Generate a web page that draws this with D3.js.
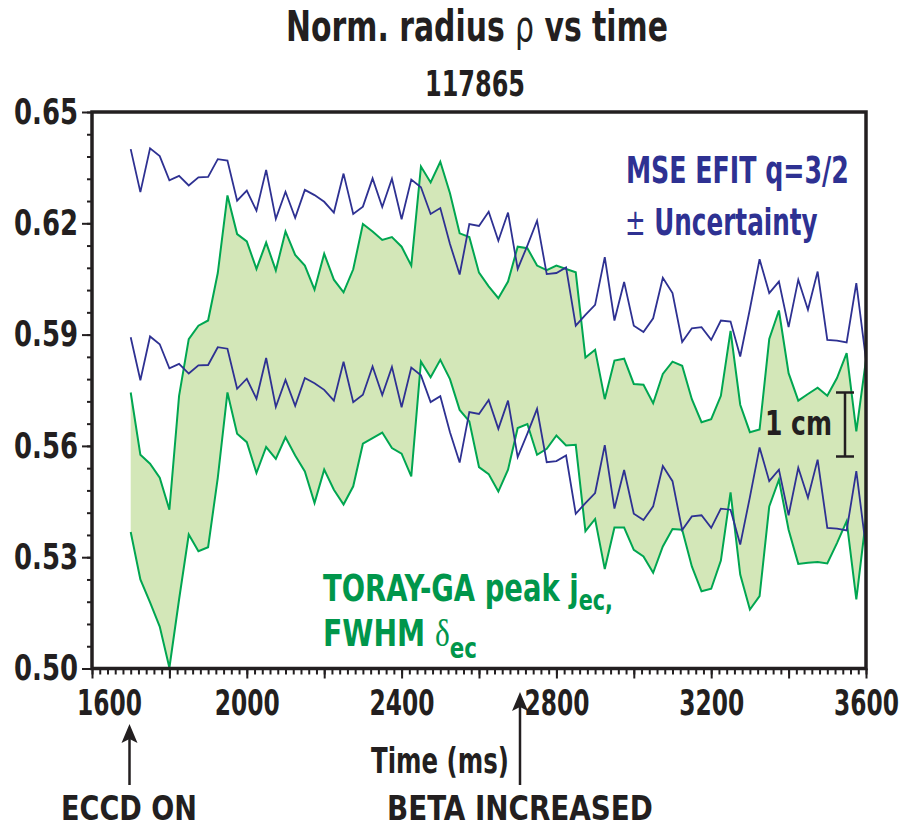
<!DOCTYPE html>
<html>
<head>
<meta charset="utf-8">
<script src="https://cdn.jsdelivr.net/npm/d3@7"></script>
<style>
    html, body { margin: 0; padding: 0; background: #fff; }
    svg { display: block; }
    text { font-family: "Liberation Sans Narrow", "Arial Narrow", "DejaVu Sans Condensed", sans-serif; font-weight: bold; fill: #231f20; }
</style>
</head>
<body>
<div id="chart"></div>
<script>
// Data (time in ms, normalised radius rho)
const times = [
    1700, 1725, 1750, 1775, 1800, 1825, 1850, 1875, 1900, 1925, 1950, 1975, 2000, 2025, 2050, 2075,
    2100, 2125, 2150, 2175, 2200, 2225, 2250, 2275, 2300, 2325, 2350, 2375, 2400, 2425, 2450, 2475,
    2500, 2525, 2550, 2575, 2600, 2625, 2650, 2675, 2700, 2725, 2750, 2775, 2800, 2825, 2850, 2875,
    2900, 2925, 2950, 2975, 3000, 3025, 3050, 3075, 3100, 3125, 3150, 3175, 3200, 3225, 3250, 3275,
    3300, 3325, 3350, 3375, 3400, 3425, 3450, 3475, 3500, 3525, 3550, 3575, 3600
];

// MSE EFIT q=3/2 +/- uncertainty
const mseUpper = [
    0.6400, 0.6284, 0.6402, 0.6381, 0.6316, 0.6328, 0.6302, 0.6324, 0.6325, 0.6373, 0.6369, 0.6261,
    0.6288, 0.6234, 0.6344, 0.6212, 0.6285, 0.6215, 0.6290, 0.6276, 0.6258, 0.6229, 0.6334,
    0.6225, 0.6245, 0.6321, 0.6244, 0.6320, 0.6211, 0.6318, 0.6297, 0.6225, 0.6241, 0.6144, 0.6062,
    0.6198, 0.6193, 0.6231, 0.6153, 0.6229, 0.6077, 0.6140, 0.6207, 0.6063, 0.6066, 0.6081,
    0.5924, 0.5953, 0.5980, 0.6109, 0.5938, 0.6042, 0.5924, 0.5907, 0.5944, 0.6053, 0.6012, 0.5880,
    0.5917, 0.5920, 0.5886, 0.5938, 0.5935, 0.5841, 0.5969, 0.6103, 0.6012, 0.6043, 0.5920, 0.6048,
    0.5967, 0.6070, 0.5886, 0.5884, 0.5879, 0.6039, 0.5832
];
const mseLower = [
    0.5893, 0.5777, 0.5895, 0.5874, 0.5809, 0.5821, 0.5795, 0.5817, 0.5818, 0.5866, 0.5862, 0.5754,
    0.5781, 0.5727, 0.5837, 0.5705, 0.5778, 0.5708, 0.5783, 0.5769, 0.5751, 0.5722, 0.5827,
    0.5718, 0.5738, 0.5814, 0.5737, 0.5813, 0.5704, 0.5811, 0.5790, 0.5718, 0.5734, 0.5637, 0.5555,
    0.5691, 0.5686, 0.5724, 0.5646, 0.5722, 0.5570, 0.5633, 0.5700, 0.5556, 0.5559, 0.5574,
    0.5417, 0.5446, 0.5473, 0.5602, 0.5431, 0.5535, 0.5417, 0.5400, 0.5437, 0.5546, 0.5505, 0.5373,
    0.5410, 0.5413, 0.5379, 0.5431, 0.5428, 0.5334, 0.5462, 0.5596, 0.5505, 0.5536, 0.5413, 0.5541,
    0.5460, 0.5563, 0.5379, 0.5377, 0.5372, 0.5532, 0.5325
];

// TORAY-GA peak j_ec +/- FWHM
const torayUpper = [
    0.5744, 0.5576, 0.5552, 0.5514, 0.5428, 0.5735, 0.5888, 0.5924, 0.5938, 0.6066, 0.6275, 0.6171,
    0.6151, 0.6077, 0.6148, 0.6073, 0.6178, 0.6115, 0.6086, 0.6021, 0.6118, 0.6048, 0.6014,
    0.6076, 0.6198, 0.6178, 0.6155, 0.6163, 0.6137, 0.6086, 0.6353, 0.6310, 0.6366, 0.6281, 0.6173,
    0.6163, 0.6067, 0.6030, 0.5998, 0.6043, 0.6137, 0.6133, 0.6086, 0.6074, 0.6086, 0.6077, 0.6068,
    0.5838, 0.5859, 0.5726, 0.5830, 0.5835, 0.5767, 0.5765, 0.5715, 0.5794, 0.5827, 0.5816, 0.5726,
    0.5664, 0.5672, 0.5735, 0.5910, 0.5711, 0.5637, 0.5644, 0.5888, 0.5965, 0.5796, 0.5722, 0.5740,
    0.5757, 0.5735, 0.5783, 0.5850, 0.5639, 0.5832
];
const torayLower = [
    0.5368, 0.5240, 0.5178, 0.5113, 0.5002, 0.5186, 0.5361, 0.5316, 0.5327, 0.5514, 0.5744, 0.5633,
    0.5610, 0.5527, 0.5597, 0.5565, 0.5623, 0.5574, 0.5531, 0.5446, 0.5536, 0.5482, 0.5442,
    0.5491, 0.5606, 0.5621, 0.5636, 0.5594, 0.5579, 0.5518, 0.5827, 0.5785, 0.5832, 0.5780, 0.5697,
    0.5666, 0.5543, 0.5524, 0.5477, 0.5536, 0.5648, 0.5659, 0.5576, 0.5592, 0.5628, 0.5601, 0.5603,
    0.5370, 0.5403, 0.5268, 0.5380, 0.5380, 0.5320, 0.5302, 0.5258, 0.5329, 0.5376, 0.5374, 0.5275,
    0.5208, 0.5215, 0.5291, 0.5475, 0.5253, 0.5159, 0.5195, 0.5437, 0.5509, 0.5374, 0.5282, 0.5285,
    0.5287, 0.5283, 0.5338, 0.5397, 0.5186, 0.5403
];

const xLabelTicks = [1600, 2000, 2400, 2800, 3200, 3600];
const yLabelTicks = [0.50, 0.53, 0.56, 0.59, 0.62, 0.65];

// Layout
const width = 901, height = 828;
const plotLeft = 92, plotRight = 866, plotTop = 112, plotBottom = 668.5;
const ink = '#231f20', blue = '#2e3192', green = '#00a651', greenText = '#00964b', fillGreen = '#d3e7b8';
const font = 35;

const x = d3.scaleLinear().domain([1600, 3600]).range([plotLeft, plotRight]);
const y = d3.scaleLinear().domain([0.50, 0.65]).range([plotBottom, plotTop]);

const svg = d3.select('#chart').append('svg')
    .attr('width', width)
    .attr('height', height);

// squeeze a text horizontally (about its anchor x) to a target width - condensed look
function squeeze(node, w) {
    const b = node.getBBox();
    if (!b.width) return;
    const s = w / b.width;
    const ax = +node.getAttribute('x') || 0;
    node.setAttribute('transform', `translate(${ax},0) scale(${s},1) translate(${-ax},0)`);
}

// band between TORAY-GA curves
const rows = times.map((t, i) => ({ t, mu: mseUpper[i], ml: mseLower[i], tu: torayUpper[i], tl: torayLower[i] }));

svg.append('path')
    .datum(rows)
    .attr('fill', fillGreen)
    .attr('stroke', 'none')
    .attr('d', d3.area().x(d => x(d.t)).y0(d => y(d.tl)).y1(d => y(d.tu)));

const lineOf = key => d3.line().x(d => x(d.t)).y(d => y(d[key]));

['tu', 'tl'].forEach(k => {
    svg.append('path')
        .datum(rows)
        .attr('fill', 'none')
        .attr('stroke', green)
        .attr('stroke-width', 2)
        .attr('d', lineOf(k));
});

['mu', 'ml'].forEach(k => {
    svg.append('path')
        .datum(rows)
        .attr('fill', 'none')
        .attr('stroke', blue)
        .attr('stroke-width', 1.8)
        .attr('d', lineOf(k));
});

// x axis: minor, major, labels
const xMinor = svg.append('g')
    .attr('transform', `translate(0,${plotBottom})`)
    .call(d3.axisBottom(x).tickValues(d3.range(1600, 3601, 20)).tickSize(6).tickFormat(''));
const xMajor = svg.append('g')
    .attr('transform', `translate(0,${plotBottom})`)
    .call(d3.axisBottom(x).tickValues(d3.range(1600, 3601, 200)).tickSize(10).tickPadding(11.5)
        .tickFormat(d => xLabelTicks.includes(d) ? d : ''));

xMajor.selectAll('text')
    .style('font-size', font + 'px')
    .attr('fill', ink)
    .attr('x', d => d === 1600 ? 17 : 0)
    .each(function (d) { if (xLabelTicks.includes(d)) squeeze(this, 65); });

// y axis
const yMinor = svg.append('g')
    .attr('transform', `translate(${plotLeft},0)`)
    .call(d3.axisLeft(y).tickValues(d3.range(0.50, 0.6501, 0.006)).tickSize(5).tickFormat(''));
const yMajor = svg.append('g')
    .attr('transform', `translate(${plotLeft},0)`)
    .call(d3.axisLeft(y).tickValues(yLabelTicks).tickSize(10).tickPadding(4).tickFormat(d3.format('.2f')));

yMajor.selectAll('text')
    .style('font-size', font + 'px')
    .attr('fill', ink)
    .each(function () { squeeze(this, 64); });

[xMinor, xMajor, yMinor, yMajor].forEach(g => {
    g.select('.domain').remove();
    g.selectAll('line').attr('stroke', ink).attr('stroke-width', 2);
});

// frame
svg.append('rect')
    .attr('x', plotLeft)
    .attr('y', plotTop)
    .attr('width', plotRight - plotLeft)
    .attr('height', plotBottom - plotTop)
    .attr('fill', 'none')
    .attr('stroke', ink)
    .attr('stroke-width', 3.5);

// titles
const title = svg.append('text')
    .attr('x', 477)
    .attr('y', 41.5)
    .attr('text-anchor', 'middle')
    .style('font-size', '42px');
title.append('tspan').text('Norm. radius ');
title.append('tspan').style('font-weight', 'normal').text('ρ');
title.append('tspan').text(' vs time');
squeeze(title.node(), 382);

const shot = svg.append('text')
    .attr('x', 475)
    .attr('y', 96)
    .attr('text-anchor', 'middle')
    .style('font-size', '36px')
    .text('117865');
squeeze(shot.node(), 100);

const xTitle = svg.append('text')
    .attr('x', 440)
    .attr('y', 773)
    .attr('text-anchor', 'middle')
    .style('font-size', font + 'px')
    .text('Time (ms)');
squeeze(xTitle.node(), 138);

// legend texts
const mse = svg.append('text')
    .attr('x', 626)
    .attr('y', 183)
    .style('font-size', '37px')
    .style('fill', blue)
    .text('MSE EFIT q=3/2');
squeeze(mse.node(), 223);

const unc = svg.append('text')
    .attr('x', 625)
    .attr('y', 235)
    .style('font-size', '37px')
    .style('fill', blue);
unc.append('tspan').style('font-weight', 'normal').text('±');
unc.append('tspan').text(' Uncertainty');
squeeze(unc.node(), 193);

const toray = svg.append('text')
    .attr('x', 323)
    .attr('y', 601.5)
    .style('font-size', '37px')
    .style('fill', greenText);
toray.append('tspan').text('TORAY-GA peak j');
toray.append('tspan').attr('dy', 9).style('font-size', '28px').text('ec,');
squeeze(toray.node(), 290);

const fwhm = svg.append('text')
    .attr('x', 323)
    .attr('y', 646.5)
    .style('font-size', '37px')
    .style('fill', greenText);
fwhm.append('tspan').text('FWHM ');
fwhm.append('tspan').style('font-family', '"Liberation Serif", serif').style('font-weight', 'normal').text('δ');
fwhm.append('tspan').attr('dy', 12).style('font-size', '28px').text('ec');
squeeze(fwhm.node(), 154);

// 1 cm scale bar
const cm = svg.append('text')
    .attr('x', 765)
    .attr('y', 435)
    .style('font-size', '34px')
    .text('1 cm');
squeeze(cm.node(), 67);

const bar = svg.append('g').attr('stroke', ink).attr('stroke-width', 2.5);
bar.append('line').attr('x1', 845).attr('x2', 845).attr('y1', 392.5).attr('y2', 456.5);
bar.append('line').attr('x1', 836).attr('x2', 854).attr('y1', 392.5).attr('y2', 392.5);
bar.append('line').attr('x1', 836).attr('x2', 854).attr('y1', 456.5).attr('y2', 456.5);

// annotation arrows
function arrow(ax, yTip, yEnd) {
    svg.append('line')
        .attr('x1', ax).attr('x2', ax)
        .attr('y1', yTip + 12).attr('y2', yEnd)
        .attr('stroke', ink)
        .attr('stroke-width', 2.5);
    svg.append('path')
        .attr('d', `M${ax},${yTip} L${ax - 8},${yTip + 19} L${ax},${yTip + 15} L${ax + 8},${yTip + 19} Z`)
        .attr('fill', ink);
}
arrow(129.5, 724, 785);
arrow(520, 692, 785);

const eccd = svg.append('text')
    .attr('x', 129)
    .attr('y', 820)
    .attr('text-anchor', 'middle')
    .style('font-size', '33px')
    .text('ECCD ON');
squeeze(eccd.node(), 136);

const beta = svg.append('text')
    .attr('x', 520)
    .attr('y', 820)
    .attr('text-anchor', 'middle')
    .style('font-size', '33px')
    .text('BETA INCREASED');
squeeze(beta.node(), 266);
</script>
</body>
</html>
